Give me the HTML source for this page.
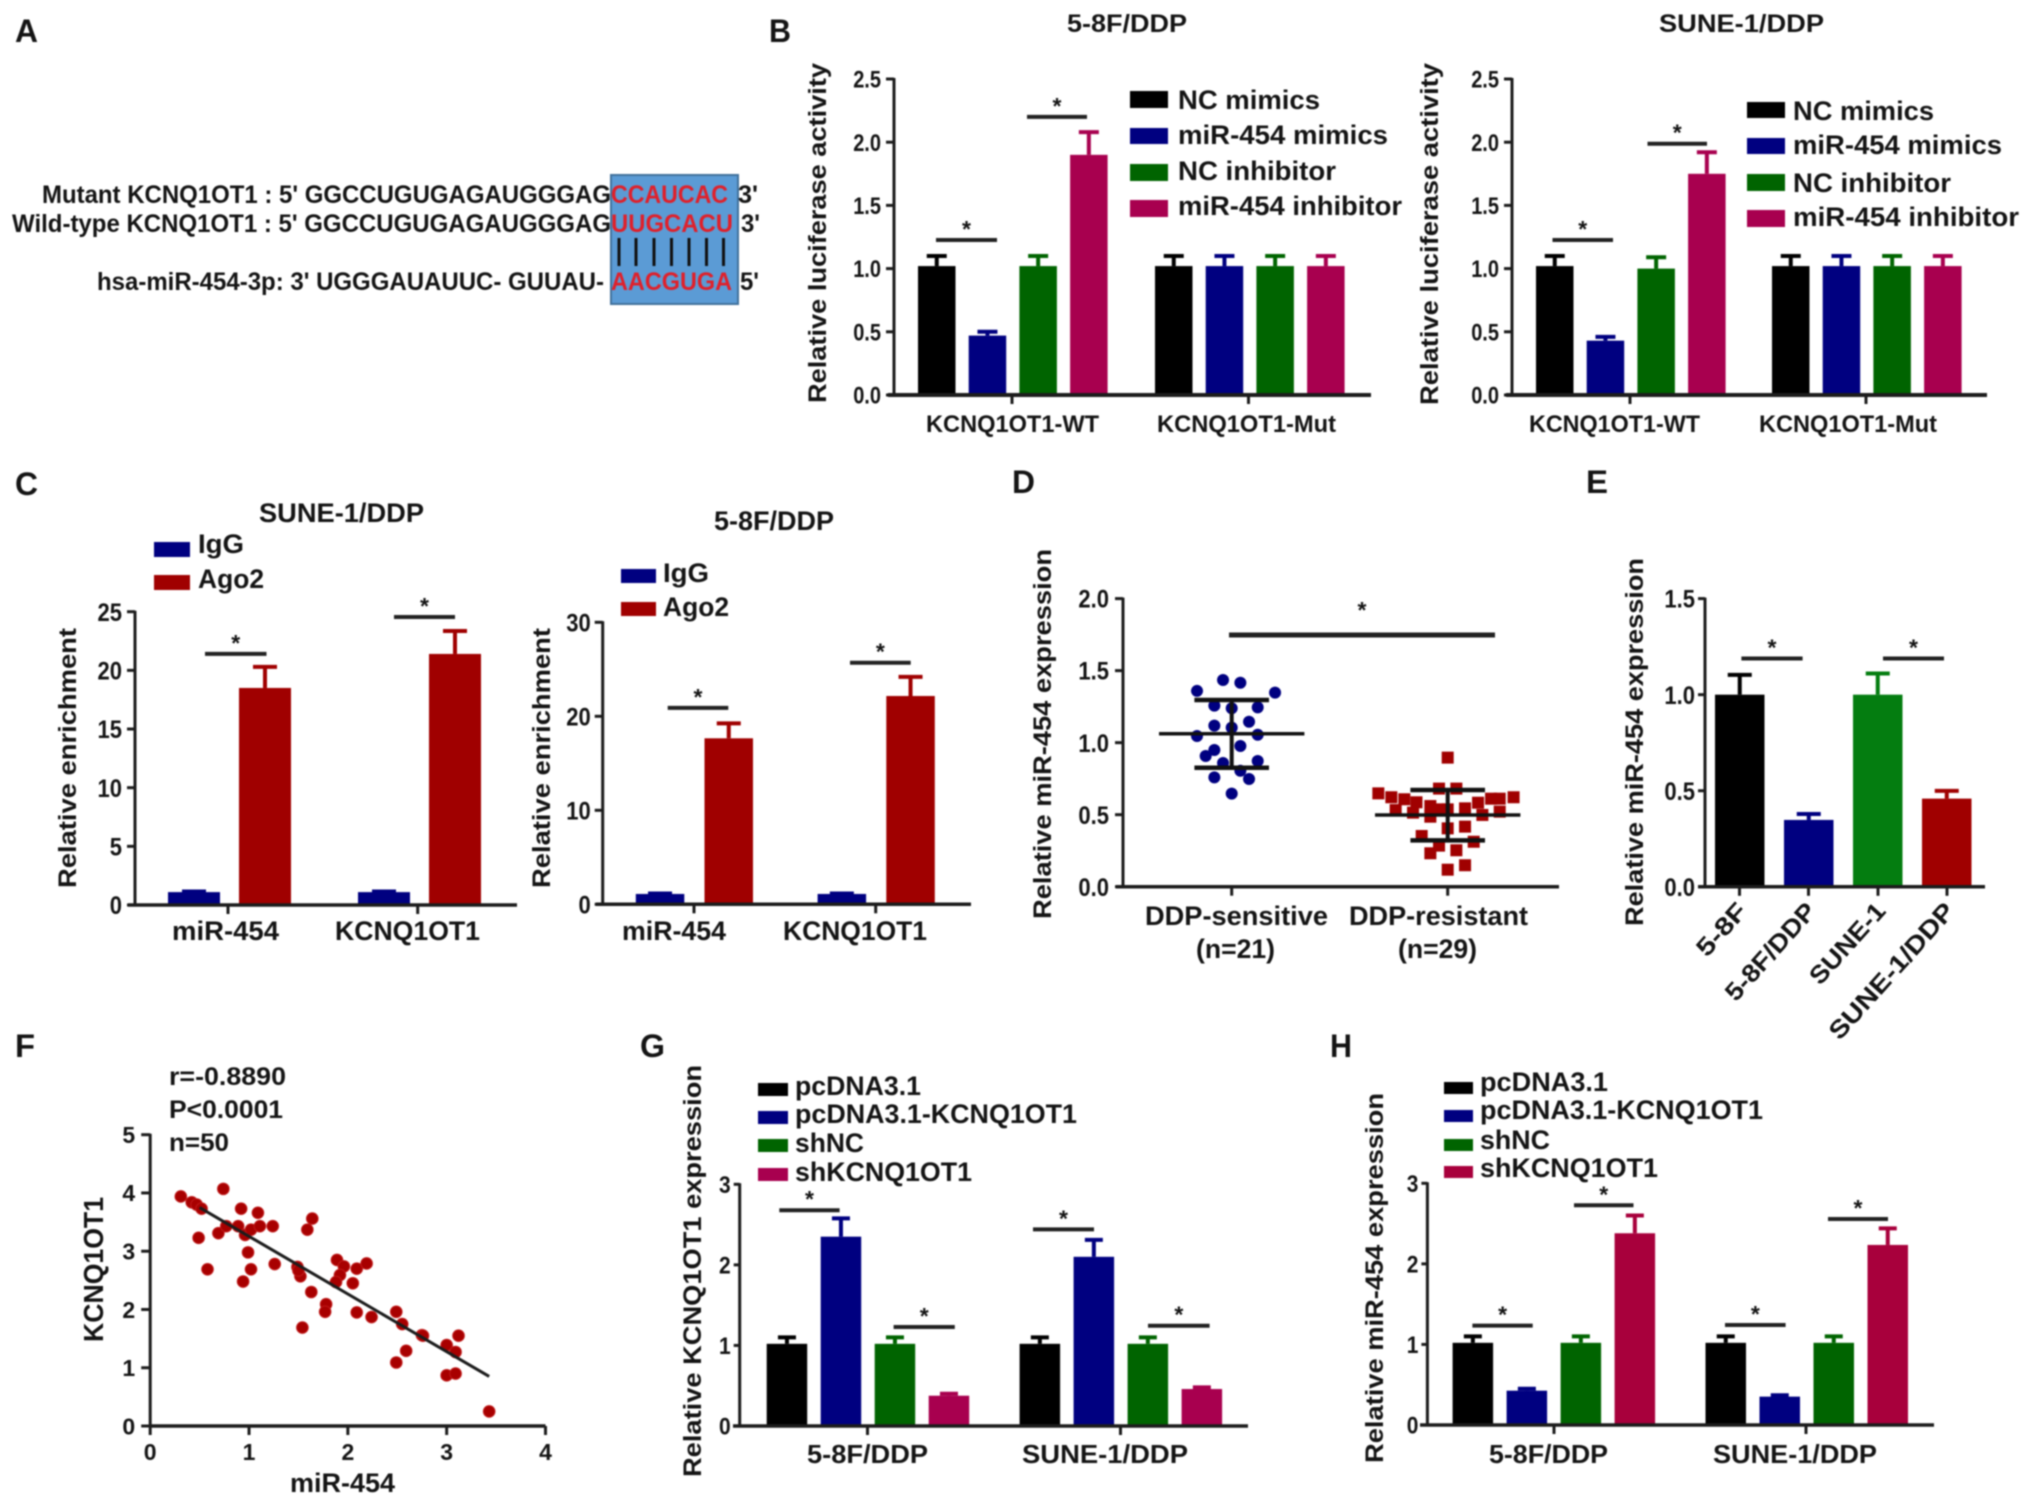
<!DOCTYPE html>
<html lang="en">
<head>
<meta charset="utf-8">
<title>KCNQ1OT1 and miR-454 multi-panel figure</title>
<style>
html,body{margin:0;padding:0;background:#fff;width:2031px;height:1505px;overflow:hidden}
svg{display:block;filter:blur(0.9px)}
text{font-family:"Liberation Sans",sans-serif;font-weight:bold;fill:#141414}
.plabel{font-size:32px}
.ttl{font-size:25px}
.ytitle{font-size:25px}
.leg{font-size:27px}
.seq{font-size:25px}
.red{fill:#e0202a}
</style>
</head>
<body>
<svg id="figure" xmlns="http://www.w3.org/2000/svg" width="2031" height="1505" viewBox="0 0 2031 1505">
<rect width="2031" height="1505" fill="#fff"/>

<!-- Panel labels -->
<text class="plabel" x="15" y="42" textLength="23" lengthAdjust="spacingAndGlyphs">A</text>
<text class="plabel" x="769" y="42" textLength="22" lengthAdjust="spacingAndGlyphs">B</text>
<text class="plabel" x="15" y="495" textLength="23" lengthAdjust="spacingAndGlyphs">C</text>
<text class="plabel" x="1012" y="493" textLength="23" lengthAdjust="spacingAndGlyphs">D</text>
<text class="plabel" x="1586" y="493" textLength="22" lengthAdjust="spacingAndGlyphs">E</text>
<text class="plabel" x="15" y="1057" textLength="20" lengthAdjust="spacingAndGlyphs">F</text>
<text class="plabel" x="640" y="1057" textLength="25" lengthAdjust="spacingAndGlyphs">G</text>
<text class="plabel" x="1330" y="1057" textLength="22" lengthAdjust="spacingAndGlyphs">H</text>

<!-- Panel A -->
<g>
  <rect x="611" y="175" width="127" height="129" fill="#5b9bd5" stroke="#41719c" stroke-width="2"/>
  <text class="seq" x="42" y="203" textLength="569" lengthAdjust="spacingAndGlyphs">Mutant KCNQ1OT1 : 5' GGCCUGUGAGAUGGGAG</text>
  <text class="seq red" x="611" y="203" textLength="117" lengthAdjust="spacingAndGlyphs">CCAUCAC</text>
  <text class="seq" x="738" y="203" textLength="20" lengthAdjust="spacingAndGlyphs">3'</text>
  <text class="seq" x="12" y="232" textLength="599" lengthAdjust="spacingAndGlyphs">Wild-type KCNQ1OT1 : 5' GGCCUGUGAGAUGGGAG</text>
  <text class="seq red" x="611" y="232" textLength="122" lengthAdjust="spacingAndGlyphs">UUGCACU</text>
  <text class="seq" x="741" y="232" textLength="19" lengthAdjust="spacingAndGlyphs">3'</text>
  <g stroke="#111" stroke-width="3">
    <line x1="619" x2="619" y1="238" y2="266"/><line x1="636" x2="636" y1="238" y2="266"/>
    <line x1="654" x2="654" y1="238" y2="266"/><line x1="671.5" x2="671.5" y1="238" y2="266"/>
    <line x1="689" x2="689" y1="238" y2="266"/><line x1="706.5" x2="706.5" y1="238" y2="266"/>
    <line x1="723.5" x2="723.5" y1="238" y2="266"/>
  </g>
  <text class="seq" x="97" y="290" textLength="507" lengthAdjust="spacingAndGlyphs">hsa-miR-454-3p: 3' UGGGAUAUUC- GUUAU-</text>
  <text class="seq red" x="611" y="290" textLength="121" lengthAdjust="spacingAndGlyphs">AACGUGA</text>
  <text class="seq" x="740" y="290" textLength="19" lengthAdjust="spacingAndGlyphs">5'</text>
</g>

<!-- Panel B left -->
<g id="b1">
  <text class="ttl" x="1067" y="32" textLength="120" lengthAdjust="spacingAndGlyphs">5-8F/DDP</text>
  <text class="ytitle" transform="translate(826,403) rotate(-90)" textLength="340" lengthAdjust="spacingAndGlyphs">Relative luciferase activity</text>
  <g>
    <rect x="1130" y="91" width="38" height="17" fill="#000"/>
    <text class="leg" x="1178" y="109" textLength="142" lengthAdjust="spacingAndGlyphs">NC mimics</text>
    <rect x="1130" y="128" width="38" height="16" fill="#000080"/>
    <text class="leg" x="1178" y="144" textLength="210" lengthAdjust="spacingAndGlyphs">miR-454 mimics</text>
    <rect x="1130" y="164" width="38" height="17" fill="#006400"/>
    <text class="leg" x="1178" y="180" textLength="158" lengthAdjust="spacingAndGlyphs">NC inhibitor</text>
    <rect x="1130" y="200" width="38" height="17" fill="#a8004f"/>
    <text class="leg" x="1178" y="215" textLength="224" lengthAdjust="spacingAndGlyphs">miR-454 inhibitor</text>
  </g>
</g>

<!-- Panel B right -->
<g id="b2">
  <text class="ttl" x="1659" y="32" textLength="165" lengthAdjust="spacingAndGlyphs">SUNE-1/DDP</text>
  <text class="ytitle" transform="translate(1438,405) rotate(-90)" textLength="342" lengthAdjust="spacingAndGlyphs">Relative luciferase activity</text>
  <g>
    <rect x="1747" y="102" width="38" height="16" fill="#000"/>
    <text class="leg" x="1793" y="120" textLength="141" lengthAdjust="spacingAndGlyphs">NC mimics</text>
    <rect x="1747" y="138" width="38" height="16" fill="#000080"/>
    <text class="leg" x="1793" y="154" textLength="209" lengthAdjust="spacingAndGlyphs">miR-454 mimics</text>
    <rect x="1747" y="174" width="38" height="17" fill="#006400"/>
    <text class="leg" x="1793" y="192" textLength="158" lengthAdjust="spacingAndGlyphs">NC inhibitor</text>
    <rect x="1747" y="210" width="38" height="17" fill="#a8004f"/>
    <text class="leg" x="1793" y="226" textLength="226" lengthAdjust="spacingAndGlyphs">miR-454 inhibitor</text>
  </g>
</g>

<!-- Panel C left -->
<g id="c1">
  <text class="ttl" style="font-size:27px" x="259" y="522" textLength="165" lengthAdjust="spacingAndGlyphs">SUNE-1/DDP</text>
  <text class="ytitle" transform="translate(76,888) rotate(-90)" textLength="260" lengthAdjust="spacingAndGlyphs">Relative enrichment</text>
  <g>
    <rect x="154" y="542" width="36" height="15" fill="#000080"/>
    <text class="leg" x="198" y="553" textLength="46" lengthAdjust="spacingAndGlyphs">IgG</text>
    <rect x="154" y="575" width="36" height="15" fill="#a00000"/>
    <text class="leg" x="198" y="588" textLength="66" lengthAdjust="spacingAndGlyphs">Ago2</text>
  </g>
</g>

<!-- Panel C right -->
<g id="c2">
  <text class="ttl" style="font-size:27px" x="714" y="530" textLength="120" lengthAdjust="spacingAndGlyphs">5-8F/DDP</text>
  <text class="ytitle" transform="translate(550,888) rotate(-90)" textLength="260" lengthAdjust="spacingAndGlyphs">Relative enrichment</text>
  <g>
    <rect x="621" y="569" width="35" height="14" fill="#000080"/>
    <text class="leg" x="663" y="582" textLength="46" lengthAdjust="spacingAndGlyphs">IgG</text>
    <rect x="621" y="602" width="35" height="14" fill="#a00000"/>
    <text class="leg" x="663" y="616" textLength="66" lengthAdjust="spacingAndGlyphs">Ago2</text>
  </g>
</g>

<!-- Panel D -->
<g id="d">
  <text class="ytitle" transform="translate(1051,919) rotate(-90)" textLength="370" lengthAdjust="spacingAndGlyphs">Relative miR-454 expression</text>
  <text class="leg" x="1145" y="925" textLength="183" lengthAdjust="spacingAndGlyphs">DDP-sensitive</text>
  <text class="leg" x="1196" y="958" textLength="79" lengthAdjust="spacingAndGlyphs">(n=21)</text>
  <text class="leg" x="1349" y="925" textLength="179" lengthAdjust="spacingAndGlyphs">DDP-resistant</text>
  <text class="leg" x="1398" y="958" textLength="79" lengthAdjust="spacingAndGlyphs">(n=29)</text>
</g>

<!-- Panel E -->
<g id="e">
  <text class="ytitle" transform="translate(1643,926) rotate(-90)" textLength="368" lengthAdjust="spacingAndGlyphs">Relative miR-454 expression</text>
</g>

<!-- Panel F -->
<g id="f">
  <text class="leg" style="font-size:25px" x="169" y="1085" textLength="117" lengthAdjust="spacingAndGlyphs">r=-0.8890</text>
  <text class="leg" style="font-size:25px" x="169" y="1118" textLength="114" lengthAdjust="spacingAndGlyphs">P&lt;0.0001</text>
  <text class="leg" style="font-size:25px" x="169" y="1151" textLength="60" lengthAdjust="spacingAndGlyphs">n=50</text>
  <text class="leg" style="font-size:27px" x="290" y="1492" textLength="105" lengthAdjust="spacingAndGlyphs">miR-454</text>
  <text class="ytitle" style="font-size:28px" transform="translate(103,1342) rotate(-90)" textLength="145" lengthAdjust="spacingAndGlyphs">KCNQ1OT1</text>
</g>

<!-- Panel G -->
<g id="g">
  <text class="ytitle" transform="translate(701,1477) rotate(-90)" textLength="412" lengthAdjust="spacingAndGlyphs">Relative KCNQ1OT1 expression</text>
  <g>
    <rect x="758" y="1083" width="30" height="13" fill="#000"/>
    <text class="leg" x="795" y="1095" textLength="126" lengthAdjust="spacingAndGlyphs">pcDNA3.1</text>
    <rect x="758" y="1111" width="30" height="13" fill="#000080"/>
    <text class="leg" x="795" y="1123" textLength="282" lengthAdjust="spacingAndGlyphs">pcDNA3.1-KCNQ1OT1</text>
    <rect x="758" y="1139" width="30" height="13" fill="#006400"/>
    <text class="leg" x="795" y="1152" textLength="69" lengthAdjust="spacingAndGlyphs">shNC</text>
    <rect x="758" y="1168" width="30" height="13" fill="#a8004f"/>
    <text class="leg" x="795" y="1181" textLength="177" lengthAdjust="spacingAndGlyphs">shKCNQ1OT1</text>
  </g>
</g>

<!-- Panel H -->
<g id="h">
  <text class="ytitle" transform="translate(1383,1463) rotate(-90)" textLength="370" lengthAdjust="spacingAndGlyphs">Relative miR-454 expression</text>
  <g>
    <rect x="1444" y="1082" width="29" height="12" fill="#000"/>
    <text class="leg" x="1480" y="1091" textLength="128" lengthAdjust="spacingAndGlyphs">pcDNA3.1</text>
    <rect x="1444" y="1110" width="29" height="12" fill="#000080"/>
    <text class="leg" x="1480" y="1119" textLength="283" lengthAdjust="spacingAndGlyphs">pcDNA3.1-KCNQ1OT1</text>
    <rect x="1444" y="1139" width="29" height="12" fill="#006400"/>
    <text class="leg" x="1480" y="1149" textLength="70" lengthAdjust="spacingAndGlyphs">shNC</text>
    <rect x="1444" y="1166" width="29" height="12" fill="#a8003c"/>
    <text class="leg" x="1480" y="1177" textLength="178" lengthAdjust="spacingAndGlyphs">shKCNQ1OT1</text>
  </g>
</g>
</svg>

<script>
// ---------- Data ----------
const bTickLabels = ['0.0','0.5','1.0','1.5','2.0','2.5'];
const bCategories = ['KCNQ1OT1-WT','KCNQ1OT1-Mut'];
const b1Values = [1.02,0.47,1.02,1.9, 1.02,1.02,1.02,1.02];
const b1Errors = [1.1,0.5,1.1,2.08, 1.1,1.1,1.1,1.1];
const b1SigLevels = [1.226,2.2];
const b2Values = [1.02,0.43,1.0,1.75, 1.02,1.02,1.02,1.02];
const b2Errors = [1.1,0.46,1.09,1.92, 1.1,1.1,1.1,1.1];
const b2SigLevels = [1.226,1.988];

const c1TickLabels = ['0','5','10','15','20','25'];
const c2TickLabels = ['0','10','20','30'];
const cCategories = ['miR-454','KCNQ1OT1'];
const c1Values = [1.1,18.5,1.1,21.4];
const c1Errors = [1.15,20.3,1.15,23.35];
const c1SigLevels = [21.4,24.55];
const c2Values = [1.1,17.66,1.1,22.16];
const c2Errors = [1.15,19.25,1.15,24.2];
const c2SigLevels = [20.9,25.7];

const dTickLabels = ['0.0','0.5','1.0','1.5','2.0'];
const sensitiveValues = [1.435,1.416,1.359,1.347,1.257,1.239,1.245,1.145,1.118,1.104,1.046,1.055,0.977,0.949,0.907,0.859,0.873,0.805,0.759,0.748,0.646];
const sensitiveSwarm = [-1,1,-4,5,-2,0,3,2,-2,0,-4,3,1,-2,-3,-1,3,1,-2,2,0];
const sensitiveSummary = [1.062,1.296,0.826];
const resistantValues = [0.896,0.681,0.681,0.648,0.621,0.607,0.586,0.621,0.611,0.611,0.583,0.56,0.544,0.537,0.537,0.532,0.514,0.486,0.521,0.498,0.405,0.417,0.352,0.312,0.285,0.253,0.232,0.149,0.118];
const resistantSwarm = [0,-1,1,-8,-6.5,-5,-3.6,7.6,6,5,3.5,-2,2,-1,0,-6,-4,-2,6,4,0,2,-3,3,-1,1,-2,2,0];
const resistantSummary = [0.498,0.671,0.322];
const dSigLevel = 1.747;

const eTickLabels = ['0.0','0.5','1.0','1.5'];
const eCategories = ['5-8F','5-8F/DDP','SUNE-1','SUNE-1/DDP'];
const eValues = [1.0,0.348,1.0,0.459];
const eErrors = [1.103,0.379,1.11,0.499];
const eSigLevels = [1.188,1.188];

const fTickLabelsX = ['0','1','2','3','4'];
const fTickLabelsY = ['0','1','2','3','4','5'];
const mirValues = [0.31,0.42,0.47,0.52,0.74,0.49,0.58,0.69,0.77,0.89,0.92,0.96,1.02,1.11,1.09,1.24,0.99,1.02,0.94,1.26,1.49,1.52,1.59,1.64,1.63,1.54,1.78,1.77,1.89,1.96,1.92,1.88,2.09,2.19,2.05,2.09,2.24,2.49,2.55,2.75,2.49,2.59,3.0,3.12,3.09,3.0,3.09,3.43,2.76,1.5];
const kcnqValues = [3.94,3.84,3.8,3.73,4.07,3.23,2.69,3.31,3.43,3.43,3.73,3.28,3.37,3.43,3.66,3.43,2.98,2.69,2.48,2.78,2.73,2.57,3.37,3.56,2.3,1.69,2.09,1.96,2.85,2.74,2.59,2.47,2.7,2.79,2.45,1.95,1.87,1.96,1.75,1.56,1.09,1.29,1.39,1.55,1.27,0.87,0.9,0.25,1.55,2.67];
const trendX = [0.5,3.43];
const trendY = [3.75,0.85];

const ghTickLabels = ['0','1','2','3'];
const ghCategories = ['5-8F/DDP','SUNE-1/DDP'];
const gValues = [1.02,2.35,1.02,0.376, 1.02,2.1,1.02,0.459];
const gErrors = [1.1,2.577,1.1,0.4, 1.1,2.31,1.1,0.48];
const gSigLevels = [2.678,1.229,2.44,1.245];
const hValues = [1.02,0.426,1.02,2.38, 1.02,0.352,1.02,2.235];
const hErrors = [1.1,0.45,1.1,2.6, 1.1,0.37,1.1,2.44];
const hSigLevels = [1.233,2.727,1.241,2.557];

// ---------- Helpers ----------
const SVGNS = 'http://www.w3.org/2000/svg';
const INK = '#1c1c1c';
const BLACK = '#000', NAVY = '#000080', GREEN = '#006400', BRIGHTGREEN = '#047d10', MAGENTA = '#a8004f', DARKRED = '#a00000', CRIMSON = '#a8003c';

function mark(parent, tag, name, attrs, content) {
  const el = document.createElementNS(SVGNS, tag);
  
  
  for (const k in attrs) el.setAttribute(k, attrs[k]);
  if (content !== undefined) el.textContent = content;
  parent.appendChild(el);
  return el;
}

function makeScale(d0, d1, r0, r1) {
  return v => r0 + (v - d0) / (d1 - d0) * (r1 - r0);
}

function drawYAxis(g, ax, labels) {
  const y = makeScale(0, ax.max, ax.y0, ax.yTop);
  const tall = ax.font * (ax.tall || 1);
  mark(g, 'line', 'y-axis', {x1: ax.x, x2: ax.x, y1: ax.yTop - 1, y2: ax.y0 + 1, stroke: INK, 'stroke-width': 3});
  labels.forEach(lbl => {
    const v = Number(lbl);
    const natural = ax.font * (lbl.replace('.', '').length * 0.556 + (lbl.indexOf('.') >= 0 ? 0.278 : 0));
    mark(g, 'line', 'y-tick', {x1: ax.x - ax.tick, x2: ax.x, y1: y(v), y2: y(v), stroke: INK, 'stroke-width': 3});
    mark(g, 'text', 'y-tick-label', {x: ax.x - ax.tick - ax.gap, y: y(v) + tall * 0.36, 'text-anchor': 'end', textLength: natural, lengthAdjust: 'spacingAndGlyphs', style: 'font-size:' + tall + 'px'}, lbl);
  });
  return y;
}

function drawXBase(g, ax) {
  mark(g, 'line', 'x-axis', {x1: ax.xStart, x2: ax.xEnd, y1: ax.y0, y2: ax.y0, stroke: INK, 'stroke-width': ax.lw || 3.5});
}

function drawSig(g, y, x1, x2, level, lw, starGap) {
  const py = y(level);
  mark(g, 'line', 'significance-bar', {x1: x1, x2: x2, y1: py, y2: py, stroke: '#222', 'stroke-width': lw || 4});
  mark(g, 'text', 'significance-star', {x: (x1 + x2) / 2, y: py - (starGap === undefined ? 3 : starGap), 'text-anchor': 'middle', style: 'font-size:23px'}, '*');
}

function drawBars(id, ax, tickLabels, values, errors, colors, perGroup, starts, step, w, capHalf, sigLevels, sigSpans) {
  const g = document.getElementById(id);
  const y = makeScale(0, ax.max, ax.y0, ax.yTop);
  values.forEach((v, i) => {
    const gi = Math.floor(i / perGroup);
    const x = starts[gi] + (i % perGroup) * step;
    const cx = x + w / 2;
    const color = colors[i % perGroup];
    mark(g, 'line', 'error-bar', {x1: cx, x2: cx, y1: y(v), y2: y(errors[i]), stroke: color, 'stroke-width': 4});
    mark(g, 'line', 'error-cap', {x1: cx - capHalf, x2: cx + capHalf, y1: y(errors[i]), y2: y(errors[i]), stroke: color, 'stroke-width': 4});
    mark(g, 'rect', 'bar', {x: x, y: y(v), width: w, height: y(0) - y(v), fill: color});
  });
  sigLevels.forEach((lv, i) => drawSig(g, y, sigSpans[i][0], sigSpans[i][1], lv));
  drawXBase(g, ax);
  drawYAxis(g, ax, tickLabels);
  return {g: g, y: y};
}

function drawCategoryLabels(g, ax, categories, ticks, spans, baseline, font) {
  categories.forEach((c, i) => {
    mark(g, 'line', 'x-tick', {x1: ticks[i], x2: ticks[i], y1: ax.y0, y2: ax.y0 + 9, stroke: INK, 'stroke-width': 3});
    mark(g, 'text', 'x-tick-label', {x: spans[i][0], y: baseline, textLength: spans[i][1], lengthAdjust: 'spacingAndGlyphs', style: 'font-size:' + font + 'px'}, c);
  });
}

const fourColors = [BLACK, NAVY, GREEN, MAGENTA];
const fourColorsH = [BLACK, NAVY, GREEN, CRIMSON];
const twoColors = [NAVY, DARKRED];

// ---------- Panel B ----------
const axB1 = {x: 894, y0: 395, yTop: 79, max: 2.5, xStart: 888, xEnd: 1371, tick: 8, gap: 5, font: 20, tall: 1.2, lw: 4};
const rB1 = drawBars('b1', axB1, bTickLabels, b1Values, b1Errors, fourColors, 4, [918, 1155], 50.7, 37.5, 10, b1SigLevels, [[936, 997], [1027, 1087]]);
drawCategoryLabels(rB1.g, axB1, bCategories, [1012, 1248.5], [[926, 173], [1157, 179]], 432, 24);

const axB2 = {x: 1512, y0: 395, yTop: 79, max: 2.5, xStart: 1506, xEnd: 1987, tick: 8, gap: 5, font: 20, tall: 1.2, lw: 4};
const rB2 = drawBars('b2', axB2, bTickLabels, b2Values, b2Errors, fourColors, 4, [1536, 1772], 50.7, 37.5, 10, b2SigLevels, [[1552.5, 1613], [1647.5, 1707]]);
drawCategoryLabels(rB2.g, axB2, bCategories, [1630, 1866], [[1529, 171], [1759, 178]], 432, 24);

// ---------- Panel C ----------
const axC1 = {x: 135, y0: 905, yTop: 611.7, max: 25, xStart: 128, xEnd: 517, tick: 8, gap: 5, font: 22, tall: 1.15};
const rC1 = drawBars('c1', axC1, c1TickLabels, c1Values, c1Errors, twoColors, 2, [168, 358], 71, 52, 12, c1SigLevels, [[205, 266.5], [394, 455]]);
drawCategoryLabels(rC1.g, axC1, cCategories, [228, 417.7], [[172, 107], [335, 145]], 940, 27);

const axC2 = {x: 602.7, y0: 904.3, yTop: 622.3, max: 30, xStart: 596, xEnd: 971, tick: 8, gap: 4, font: 22, tall: 1.15};
const rC2 = drawBars('c2', axC2, c2TickLabels, c2Values, c2Errors, twoColors, 2, [635.8, 817.6], 68.7, 48.5, 12, c2SigLevels, [[667.7, 728.3], [850, 910.7]]);
drawCategoryLabels(rC2.g, axC2, cCategories, [694, 875.7], [[622, 104], [783, 144]], 940, 27);

// ---------- Panel D ----------
(function () {
  const g = document.getElementById('d');
  const ax = {x: 1123, y0: 886.7, yTop: 598.6, max: 2, xStart: 1116, xEnd: 1559, tick: 8, gap: 6, font: 22, tall: 1.15, lw: 3.5};
  const y = makeScale(0, ax.max, ax.y0, ax.yTop);
  const cats = [1231.7, 1447.7];
  const binW = 8.67;
  sensitiveValues.forEach((v, i) => {
    mark(g, 'circle', 'sensitive-point', {cx: cats[0] + sensitiveSwarm[i] * binW, cy: y(v), r: 6, fill: NAVY});
  });
  resistantValues.forEach((v, i) => {
    mark(g, 'rect', 'resistant-point', {x: cats[1] + resistantSwarm[i] * binW - 6, y: y(v) - 6, width: 12, height: 12, fill: DARKRED});
  });
  [sensitiveSummary, resistantSummary].forEach((s, i) => {
    const c = cats[i];
    mark(g, 'line', 'mean-line', {x1: c - 72.7, x2: c + 72.7, y1: y(s[0]), y2: y(s[0]), stroke: '#111', 'stroke-width': 3.5});
    mark(g, 'line', 'sd-stem', {x1: c, x2: c, y1: y(s[1]), y2: y(s[2]), stroke: '#111', 'stroke-width': 4});
    mark(g, 'line', 'sd-cap-upper', {x1: c - 37.3, x2: c + 37.3, y1: y(s[1]), y2: y(s[1]), stroke: '#111', 'stroke-width': 4.5});
    mark(g, 'line', 'sd-cap-lower', {x1: c - 37.3, x2: c + 37.3, y1: y(s[2]), y2: y(s[2]), stroke: '#111', 'stroke-width': 4.5});
    mark(g, 'line', 'x-tick', {x1: c, x2: c, y1: ax.y0, y2: ax.y0 + 9, stroke: INK, 'stroke-width': 3});
  });
  drawSig(g, y, 1229, 1495, dSigLevel, 5, 17);
  drawXBase(g, ax);
  drawYAxis(g, ax, dTickLabels);
})();

// ---------- Panel E ----------
const axE = {x: 1705, y0: 886.8, yTop: 598.6, max: 1.5, xStart: 1698, xEnd: 1985, tick: 7, gap: 3, font: 22, tall: 1.15};
const rE = drawBars('e', axE, eTickLabels, eValues, eErrors, [BLACK, NAVY, BRIGHTGREEN, DARKRED], 4, [1715], 69, 49.5, 12, eSigLevels, [[1741.4, 1802.6], [1883, 1944]]);
const eTicks = [1739.5, 1808.5, 1878, 1947];
const eLens = [62, 122, 100, 174];
eCategories.forEach((c, i) => {
  mark(rE.g, 'line', 'x-tick', {x1: eTicks[i], x2: eTicks[i], y1: axE.y0, y2: axE.y0 + 9, stroke: INK, 'stroke-width': 3});
  mark(rE.g, 'text', 'x-tick-label', {transform: 'translate(' + (eTicks[i] + 9) + ',912) rotate(-48)', 'text-anchor': 'end', textLength: eLens[i], lengthAdjust: 'spacingAndGlyphs', style: 'font-size:25px'}, c);
});

// ---------- Panel F ----------
(function () {
  const g = document.getElementById('f');
  const ax = {x: 150.2, y0: 1426, yTop: 1134.7, max: 5, xStart: 150.2, xEnd: 545.5, tick: 9, gap: 6, font: 23};
  const x = makeScale(0, 4, 150.2, 545.5);
  const y = makeScale(0, 5, ax.y0, ax.yTop);
  mirValues.forEach((v, i) => {
    mark(g, 'circle', 'data-point', {cx: x(v), cy: y(kcnqValues[i]), r: 5.8, fill: '#a80000', stroke: '#c01818', 'stroke-width': 1});
  });
  mark(g, 'line', 'trend-line', {x1: x(trendX[0]), y1: y(trendY[0]), x2: x(trendX[1]), y2: y(trendY[1]), stroke: '#1c1c1c', 'stroke-width': 3});
  drawXBase(g, ax);
  drawYAxis(g, ax, fTickLabelsY);
  fTickLabelsX.forEach(lbl => {
    const v = Number(lbl);
    mark(g, 'line', 'x-tick', {x1: x(v), x2: x(v), y1: ax.y0, y2: ax.y0 + 9, stroke: INK, 'stroke-width': 3});
    mark(g, 'text', 'x-tick-label', {x: x(v), y: 1460, 'text-anchor': 'middle', style: 'font-size:23px'}, lbl);
  });
})();

// ---------- Panel G ----------
const axG = {x: 739.7, y0: 1426, yTop: 1184.3, max: 3, xStart: 733, xEnd: 1248, tick: 6, gap: 3, font: 21, tall: 1.15};
const rG = drawBars('g', axG, ghTickLabels, gValues, gErrors, fourColors, 4, [766.7, 1019.6], 54, 40.5, 9, gSigLevels, [[779.3, 839.6], [893.6, 954.8], [1033, 1094], [1148, 1209.6]]);
drawCategoryLabels(rG.g, axG, ghCategories, [867.5, 1120.5], [[807, 121], [1022, 166]], 1463, 26);

// ---------- Panel H ----------
const axH = {x: 1427.4, y0: 1425, yTop: 1183.3, max: 3, xStart: 1420, xEnd: 1934, tick: 6, gap: 3, font: 21, tall: 1.15};
const rH = drawBars('h', axH, ghTickLabels, hValues, hErrors, fourColorsH, 4, [1452.6, 1705.5], 54, 40.5, 9, hSigLevels, [[1472.4, 1532.7], [1574, 1633.5], [1725, 1785.6], [1828, 1888]]);
drawCategoryLabels(rH.g, axH, ghCategories, [1554, 1806], [[1489, 119], [1713, 164]], 1463, 26);
</script>
</body>
</html>
